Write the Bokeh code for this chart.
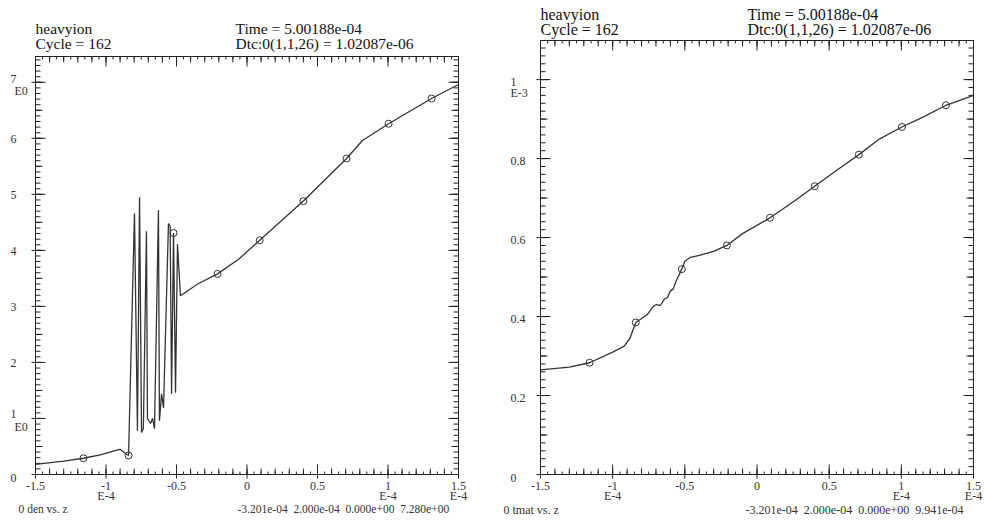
import numpy as np
from bokeh.plotting import figure
from bokeh.layouts import row
from bokeh.models import Label
from bokeh.embed import file_html
from bokeh.resources import INLINE

# ---------------- data (z in units of 1e-4) ----------------
den_z = [-1.500, -1.300, -1.160, -1.040, -0.930, -0.900, -0.860, -0.840,
         -0.798, -0.777, -0.762, -0.748, -0.735, -0.713, -0.706, -0.684, -0.670, -0.656,
         -0.628, -0.621, -0.606, -0.592, -0.557, -0.545, -0.535, -0.521, -0.507, -0.493, -0.472,
         -0.350, -0.209, -0.060, 0.090, 0.400, 0.706, 0.819, 1.004, 1.309, 1.500]
den = [0.18, 0.24, 0.29, 0.35, 0.43, 0.45, 0.37, 0.34,
       4.66, 0.78, 4.95, 0.75, 0.82, 4.34, 1.00, 0.91, 1.00, 0.82,
       4.72, 0.96, 1.44, 1.19, 4.48, 4.43, 1.44, 4.31, 1.46, 4.11, 3.19,
       3.40, 3.58, 3.84, 4.18, 4.88, 5.64, 5.96, 6.26, 6.71, 6.96]

mark_z = [-1.16, -0.84, -0.521, -0.209, 0.09, 0.40, 0.706, 1.004, 1.309]
den_mark = [0.29, 0.34, 4.31, 3.58, 4.18, 4.88, 5.64, 6.26, 6.71]

# tmat in units of 1e-3
tmat_z = [-1.50, -1.30, -1.16, -1.00, -0.92, -0.88, -0.84, -0.80, -0.76, -0.72, -0.70,
          -0.67, -0.64, -0.62, -0.60, -0.58, -0.56, -0.521, -0.50, -0.46, -0.40, -0.30,
          -0.209, -0.10, 0.09, 0.25, 0.40, 0.55, 0.706, 0.85, 1.004, 1.15, 1.309, 1.50]
tmat = [0.265, 0.272, 0.283, 0.310, 0.325, 0.345, 0.385, 0.395, 0.405, 0.425, 0.430,
        0.428, 0.445, 0.448, 0.465, 0.470, 0.490, 0.520, 0.540, 0.550, 0.555, 0.565,
        0.580, 0.610, 0.650, 0.690, 0.730, 0.770, 0.810, 0.850, 0.880, 0.905, 0.935, 0.960]
tmat_mark = [0.283, 0.385, 0.520, 0.580, 0.650, 0.730, 0.810, 0.880, 0.935]

x_ticks = [-1.5, -1.0, -0.5, 0.0, 0.5, 1.0, 1.5]
x_tick_labels = ["-1.5", "-1", "-0.5", "0", "0.5", "1", "1.5"]
x_exp_ticks = [-1.0, 1.0, 1.5]
x_exp_label = "E-4"

den_ticks = [0, 1, 2, 3, 4, 5, 6, 7]
den_tick_labels = ["0", "1", "2", "3", "4", "5", "6", "7"]
den_exp_ticks = [7, 1]
den_exp_label = "E0"

tmat_ticks = [0.0, 0.2, 0.4, 0.6, 0.8, 1.0]
tmat_tick_labels = ["0", "0.2", "0.4", "0.6", "0.8", "1"]
tmat_exp_ticks = [1.0]
tmat_exp_label = "E-3"

title_left = "heavyion"
cycle_text = "Cycle = 162"
time_text = "Time = 5.00188e-04"
dtc_text = "Dtc:0(1,1,26) = 1.02087e-06"
den_name = "0 den vs. z"
den_stats = "-3.201e-04\u00a0\u00a02.000e-04\u00a0\u00a00.000e+00\u00a0\u00a07.280e+00"
tmat_name = "0 tmat vs. z"
tmat_stats = "-3.201e-04\u00a0\u00a02.000e-04\u00a0\u00a00.000e+00\u00a0\u00a09.941e-04"

FONT = "Liberation Serif"
INK = "#222222"
X0, X1 = -1.5, 1.5
EDGE = 1  # px of border round the drawing area


def ticks(lo, hi, step):
    n = int(np.floor((hi - lo) / step + 1e-6))
    return [round(float(lo + step * i), 6) for i in range(n + 1)]


def make_panel(g, zs, vals, mvals, ymax, yticks, ylabels, yexp, yexp_label,
               y_step_minor, y_step_mid, name, stats):
    # the drawing area covers (almost) the whole canvas; the plot box sits inside it
    w, h = g["w"], g["h"]
    L, R, T, B = g["L"], g["R"], g["T"], g["B"]
    kx = (R - L) / (X1 - X0)
    ky = (B - T) / ymax
    xr = (X0 - (L - EDGE) / kx, X1 + (w - EDGE - R) / kx)
    yr = (-(h - EDGE - B) / ky, ymax + (T - EDGE) / ky)
    p = figure(width=w, height=h, x_range=xr, y_range=yr,
               toolbar_location=None, output_backend="svg",
               x_axis_location=None, y_axis_location=None,
               min_border_left=EDGE, min_border_right=EDGE,
               min_border_top=EDGE, min_border_bottom=EDGE)
    p.grid.visible = False
    p.outline_line_color = None
    p.background_fill_color = "white"
    p.border_fill_color = "white"

    # tick marks (inside the plot box on all four sides)
    xm = ticks(X0, X1, 0.05)
    xmid = ticks(X0, X1, 0.1)
    xM = ticks(X0, X1, 0.5)
    for xs, Lt in ((xm, 3), (xmid, 6), (xM, 10)):
        p.ray(x=xs, y=[0.0] * len(xs), length=Lt, angle=np.pi / 2, length_units="screen",
              line_color=INK, line_width=1)
        p.ray(x=xs, y=[ymax] * len(xs), length=Lt, angle=-np.pi / 2, length_units="screen",
              line_color=INK, line_width=1)
    p.ray(x=xM, y=[0.0] * len(xM), length=4, angle=-np.pi / 2, length_units="screen",
          line_color=INK, line_width=1)
    ym = ticks(0, ymax, y_step_minor)
    ymid = ticks(0, ymax, y_step_mid)
    for ys, Lt in ((ym, 5), (ymid, 7), (list(yticks), 10)):
        p.ray(x=[X0] * len(ys), y=ys, length=Lt, angle=0.0, length_units="screen",
              line_color=INK, line_width=1)
        p.ray(x=[X1] * len(ys), y=ys, length=Lt, angle=np.pi, length_units="screen",
              line_color=INK, line_width=1)
    p.ray(x=[X0] * len(yticks), y=list(yticks), length=4, angle=np.pi, length_units="screen",
          line_color=INK, line_width=1)

    # plot box
    p.line([X0, X1, X1, X0, X0], [0, 0, ymax, ymax, 0], line_color=INK, line_width=1)

    # curve and markers
    p.line(zs, vals, line_color="#333333", line_width=1.3)
    p.scatter(mark_z, mvals, marker="circle", size=7, fill_color=None,
              line_color="#333333", line_width=1)

    def lab(x, y, text, size, xo=0, yo=0, align="left", color="#111111"):
        p.add_layout(Label(x=x, y=y, x_offset=xo, y_offset=yo, text=text,
                           text_font=FONT, text_font_size=size, text_color=color,
                           text_align=align, text_baseline="middle"))

    hs = g["hs"]
    lab(X0, ymax, title_left, hs, yo=g["h1"])
    lab(X0, ymax, cycle_text, hs, yo=g["h2"])
    lab(X0, ymax, time_text, hs, xo=g["tx"], yo=g["h1"])
    lab(X0, ymax, dtc_text, hs, xo=g["tx"], yo=g["h2"])

    ts = g["ts"]
    for t, s in zip(x_ticks, x_tick_labels):
        lab(t, 0, s, ts, yo=-11, align="center", color="#333333")
    for t in x_exp_ticks:
        lab(t, 0, x_exp_label, ts, yo=-21, align="center", color="#333333")
    for t, s in zip(yticks, ylabels):
        dy = g["ydy"].get(s, g["ydy_default"])
        lab(X0, t, s, ts, xo=g["yx"], yo=dy, color="#333333")
    for t in yexp:
        lab(X0, t, yexp_label, ts, xo=g["ex"], yo=g["edy"], color="#333333")

    lab(X0, 0, name, g["bs"], xo=g["nx"], yo=g["by"], color="#333333")
    lab(X0, 0, stats, g["bs"], xo=g["sx"], yo=g["by"], color="#333333")
    return p


g_left = dict(w=490, h=524, L=35, R=458, T=56, B=474, hs="15.5px", h1=28, h2=13, tx=200,
              ts="12px", yx=-25, ex=-21, edy=-9, ydy={"7": 3, "1": 4, "0": -3}, ydy_default=-1,
              bs="11.5px", nx=-17, sx=202, by=-34)
g_right = dict(w=494, h=524, L=50, R=483, T=40, B=474, hs="16px", h1=26, h2=11, tx=207,
               ts="12px", yx=-30, ex=-30, edy=-13, ydy={"0": -3}, ydy_default=-2,
               bs="12px", nx=-37, sx=205, by=-35)

p1 = make_panel(g_left, den_z, den, den_mark, 7.46, den_ticks, den_tick_labels,
                den_exp_ticks, den_exp_label, 0.1, 0.5, den_name, den_stats)
p2 = make_panel(g_right, tmat_z, tmat, tmat_mark, 1.099, tmat_ticks, tmat_tick_labels,
                tmat_exp_ticks, tmat_exp_label, 0.02, 0.1, tmat_name, tmat_stats)

layout = row(p1, p2)
open("out.html", "w").write(file_html(layout, INLINE))
